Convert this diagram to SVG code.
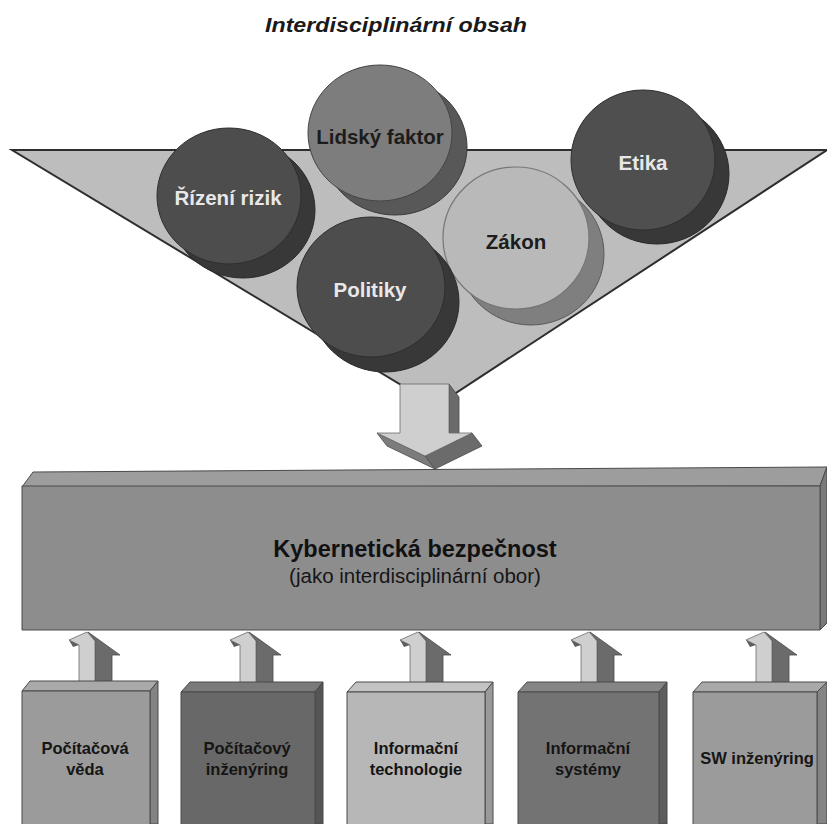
<svg xmlns="http://www.w3.org/2000/svg" xmlns:xlink="http://www.w3.org/1999/xlink" width="827" height="824" viewBox="0 0 827 824">
<style>
  text { font-family: "Liberation Sans", Arial, sans-serif; text-anchor: middle; }
  .title { font-size: 20px; font-weight: bold; font-style: italic; fill: #1a1a1a; }
  .disc { font-size: 20.5px; font-weight: bold; }
  .lt { fill: #e8e8e8; }
  .dk { fill: #1c1c1c; }
  .main { font-size: 23.5px; font-weight: bold; fill: #111; }
  .sub { font-size: 20.5px; fill: #151515; }
  .box { font-size: 16.5px; font-weight: bold; fill: #151515; }
  .edge { stroke: #4a4a4a; stroke-width: 1; stroke-linejoin: round; }
  .arL { fill: #cfcfcf; stroke: #6a6a6a; stroke-width: 0.8; stroke-linejoin: round; }
  .arD { fill: #6b6b6b; stroke: #4a4a4a; stroke-width: 0.8; stroke-linejoin: round; }
  .arM { fill: #5e5e5e; }
</style>
<defs>
  <g id="uparrow">
    <path class="arD" d="M1,632 L33,655 L25,655 V684 H8 V641 Z"/>
    <path class="arL" d="M0,632 L-18,640 L-8,645 V684 H8 V641 Z"/>
    <path class="arM" d="M-18,640 L-14,647 L-8,645 Z"/>
  </g>
</defs>
<rect width="827" height="824" fill="#ffffff"/>

<g id="title">
  <text class="title" x="396" y="32" textLength="262" lengthAdjust="spacingAndGlyphs">Interdisciplinární obsah</text>
</g>

<g id="funnel">
  <polygon points="12,150 827,150 436,406" fill="#bdbdbd" stroke="#2e2e2e" stroke-width="2" stroke-linejoin="miter"/>
</g>

<g id="lidsky-faktor">
  <ellipse cx="395" cy="147" rx="72" ry="68" fill="#585858" stroke="#3a3a3a" stroke-width="1"/>
  <ellipse cx="380" cy="133" rx="72" ry="68" fill="#7d7d7d" stroke="#444" stroke-width="1"/>
  <text class="disc dk" x="380" y="144">Lidský faktor</text>
</g>

<g id="rizeni-rizik">
  <ellipse cx="243" cy="210" rx="72" ry="68" fill="#383838" stroke="#2a2a2a" stroke-width="1"/>
  <ellipse cx="229" cy="196" rx="72" ry="68" fill="#4d4d4d" stroke="#2e2e2e" stroke-width="1"/>
  <text class="disc lt" x="228" y="205">Řízení rizik</text>
</g>

<g id="zakon">
  <ellipse cx="531" cy="254" rx="73" ry="71" fill="#7f7f7f" stroke="#5a5a5a" stroke-width="1"/>
  <ellipse cx="516" cy="238" rx="73" ry="71" fill="#b9b9b9" stroke="#777" stroke-width="1.2"/>
  <text class="disc dk" x="516" y="249">Zákon</text>
</g>

<g id="politiky">
  <ellipse cx="385" cy="302" rx="74" ry="70" fill="#383838" stroke="#2a2a2a" stroke-width="1"/>
  <ellipse cx="371" cy="287" rx="74" ry="70" fill="#4d4d4d" stroke="#2e2e2e" stroke-width="1"/>
  <text class="disc lt" x="370" y="297">Politiky</text>
</g>

<g id="etika">
  <ellipse cx="657" cy="174" rx="72" ry="70" fill="#383838" stroke="#2a2a2a" stroke-width="1"/>
  <ellipse cx="643" cy="160" rx="72" ry="70" fill="#4f4f4f" stroke="#2e2e2e" stroke-width="1"/>
  <text class="disc lt" x="643" y="170">Etika</text>
</g>

<g id="connectors">
  <g id="down-arrow">
    <path class="arD" d="M449,384 L459,397 V446 L449,433 Z"/>
    <path class="arD" fill="#666" d="M472,433 L482,446 L435,469 L425,456 Z"/>
    <path fill="#7c7c7c" stroke="#4a4a4a" stroke-width="0.8" stroke-linejoin="round" d="M377,433 L425,456 L435,469 L387,446 Z"/>
    <path class="arL" d="M400,384 H449 V433 H472 L425,456 L377,433 H400 Z"/>
  </g>
  <use xlink:href="#uparrow" transform="translate(87,0)"/>
  <use xlink:href="#uparrow" transform="translate(248,0)"/>
  <use xlink:href="#uparrow" transform="translate(418,0)"/>
  <use xlink:href="#uparrow" transform="translate(589,0)"/>
  <use xlink:href="#uparrow" transform="translate(764,0)"/>
</g>

<g id="kyberneticka-bezpecnost">
  <polygon class="edge" points="22,487 33,472 827,467 820,486" fill="#9d9d9d"/>
  <polygon class="edge" points="820,486 827,467 827,623 820,630" fill="#7a7a7a"/>
  <rect class="edge" x="22" y="486" width="798" height="144" fill="#8d8d8d"/>
  <text class="main" x="415" y="557">Kybernetická bezpečnost</text>
  <text class="sub" x="415" y="583">(jako interdisciplinární obor)</text>
</g>

<g id="pocitacova-veda">
  <polygon class="edge" points="22,691 30,681 158,681 150,691" fill="#a9a9a9"/>
  <polygon class="edge" points="150,691 158,681 158,824 150,824" fill="#838383"/>
  <rect class="edge" x="22" y="691" width="128" height="140" fill="#9b9b9b"/>
  <text class="box" x="85" y="754">Počítačová</text>
  <text class="box" x="85" y="775">věda</text>
</g>

<g id="pocitacovy-inzenyring">
  <polygon class="edge" points="181,692 190,682 323,682 315,692" fill="#7a7a7a"/>
  <polygon class="edge" points="315,692 323,682 323,824 315,824" fill="#555555"/>
  <rect class="edge" x="181" y="692" width="134" height="140" fill="#686868"/>
  <text class="box" x="247" y="754">Počítačový</text>
  <text class="box" x="247" y="775">inženýring</text>
</g>

<g id="informacni-technologie">
  <polygon class="edge" points="347,692 356,682 493,682 485,692" fill="#c3c3c3"/>
  <polygon class="edge" points="485,692 493,682 493,824 485,824" fill="#999999"/>
  <rect class="edge" x="347" y="692" width="138" height="140" fill="#b7b7b7"/>
  <text class="box" x="416" y="754">Informační</text>
  <text class="box" x="416" y="775">technologie</text>
</g>

<g id="informacni-systemy">
  <polygon class="edge" points="518,692 527,682 667,682 659,692" fill="#858585"/>
  <polygon class="edge" points="659,692 667,682 667,824 659,824" fill="#5d5d5d"/>
  <rect class="edge" x="518" y="692" width="141" height="140" fill="#737373"/>
  <text class="box" x="588" y="754">Informační</text>
  <text class="box" x="588" y="775">systémy</text>
</g>

<g id="sw-inzenyring">
  <polygon class="edge" points="693,692 702,682 827,682 817,692" fill="#a9a9a9"/>
  <polygon class="edge" points="817,692 827,682 827,824 817,824" fill="#848484"/>
  <rect class="edge" x="693" y="692" width="124" height="140" fill="#9b9b9b"/>
  <text class="box" x="757" y="764">SW inženýring</text>
</g>
</svg>
